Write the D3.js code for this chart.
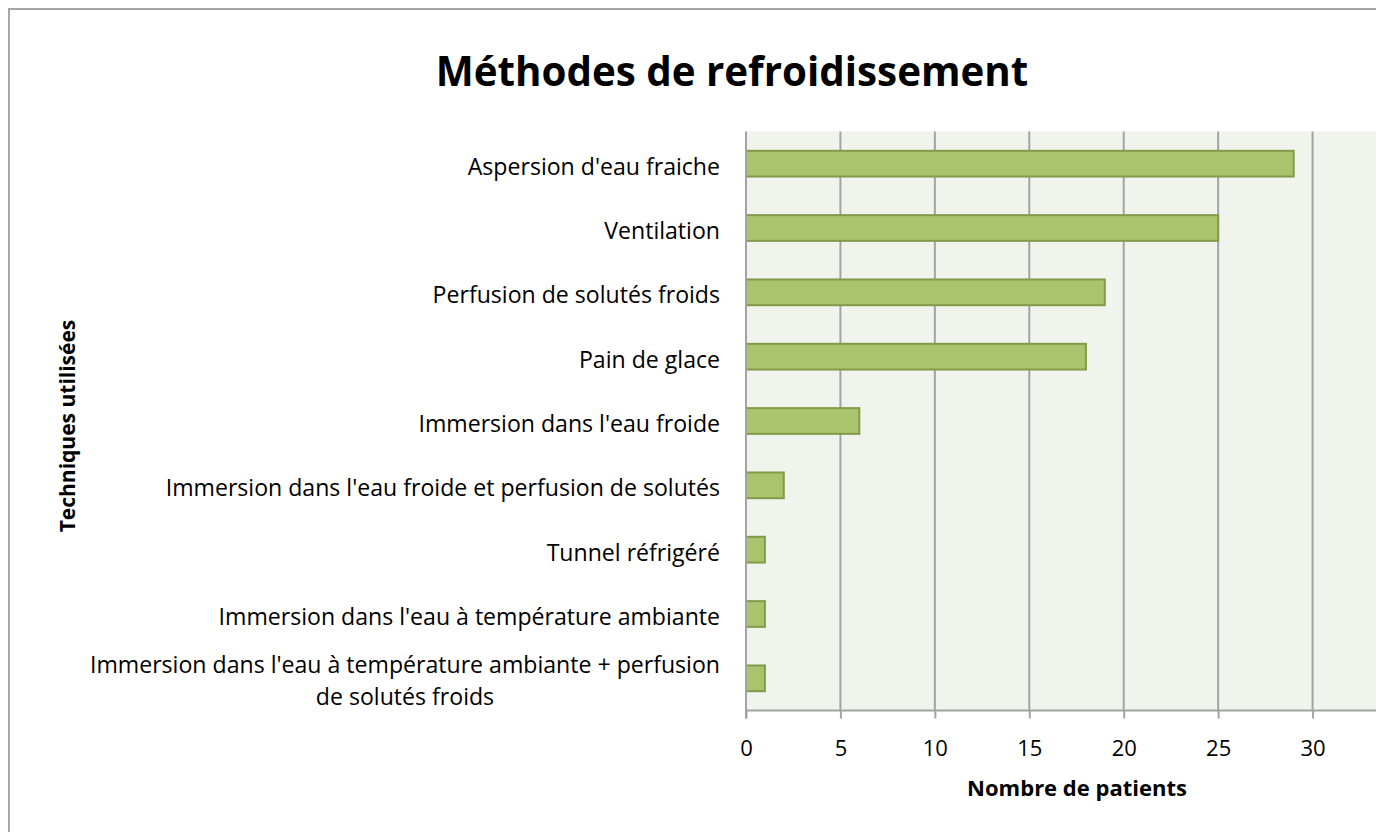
<!DOCTYPE html>
<html><head><meta charset="utf-8">
<script src="https://cdn.jsdelivr.net/npm/d3@7"></script>
<style>body{margin:0;background:#fff;overflow:hidden}svg{display:block}</style>
</head><body><svg id="c" width="1376" height="832"></svg>
<script>
const categories = [
  "Aspersion d'eau fraiche",
  "Ventilation",
  "Perfusion de solutés froids",
  "Pain de glace",
  "Immersion dans l'eau froide",
  "Immersion dans l'eau froide et perfusion de solutés",
  "Tunnel réfrigéré",
  "Immersion dans l'eau à température ambiante",
  "Immersion dans l'eau à température ambiante + perfusion|de solutés froids"
];
const values = [29, 25, 19, 18, 6, 2, 1, 1, 1];
const xTicks = [0, 5, 10, 15, 20, 25, 30];
const title = "Méthodes de refroidissement";
const xTitle = "Nombre de patients";
const yTitle = "Techniques utilisées";

const FONT = "'Open Sans', sans-serif";
const svg = d3.select("#c");
svg.append("rect").attr("x",9).attr("y",9).attr("width",1400).attr("height",900)
  .attr("fill","#fff").attr("stroke","#a6a6a6").attr("stroke-width",2);

const L = 746, R = 1407, T = 131.5, B = 710.5;
const x = d3.scaleLinear().domain([0, 35]).range([L, R]);
const y = d3.scaleBand().domain(categories).range([T, B]).paddingInner(0.6).paddingOuter(0.3);

svg.append("rect").attr("x",L).attr("y",T).attr("width",R-L).attr("height",B-T).attr("fill","#f1f4ed");

svg.append("g").selectAll("line").data(xTicks.filter(d=>d>0).concat([35])).join("line")
  .attr("x1",d=>x(d)).attr("x2",d=>x(d)).attr("y1",T).attr("y2",B)
  .attr("stroke","#a3a3a3").attr("stroke-width",2);

svg.append("g").selectAll("rect").data(values).join("rect")
  .attr("x",x(0)).attr("y",(d,i)=>y(categories[i]))
  .attr("width",d=>x(d)-x(0)).attr("height",y.bandwidth())
  .attr("fill","#a9c46c").attr("stroke","#809b49").attr("stroke-width",2);

const xa = svg.append("g").attr("transform",`translate(0,${B})`)
  .call(d3.axisBottom(x).tickValues(xTicks).tickSize(8).tickPadding(22).tickSizeOuter(0));
xa.select(".domain").attr("stroke","#a3a3a3").attr("stroke-width",2).attr("d",`M${L},0H${R}`);
xa.selectAll(".tick line").attr("stroke","#a3a3a3").attr("stroke-width",2);
xa.selectAll(".tick text").attr("font-family",FONT).attr("font-size",22).attr("fill","#000");

svg.append("line").attr("x1",L).attr("x2",L).attr("y1",T).attr("y2",B+8)
  .attr("stroke","#a3a3a3").attr("stroke-width",2);

const lab = svg.append("g").attr("font-family",FONT).attr("font-size",23.1).attr("fill","#000");
categories.forEach((c,i)=>{
  const lines = c.split("|");
  const cy = y(c) + y.bandwidth()/2;
  if (lines.length === 1) {
    lab.append("text").attr("x",720).attr("y",cy+3).attr("dy","0.35em").attr("text-anchor","end").text(c);
  } else {
    const t1 = lab.append("text").attr("x",720).attr("y",cy-13).attr("dy","0.35em").attr("text-anchor","end").text(lines[0]);
    const w = t1.node().getComputedTextLength();
    const mid = 720 - w/2;
    t1.attr("text-anchor","middle").attr("x",mid);
    lab.append("text").attr("x",mid).attr("y",cy+19).attr("dy","0.35em").attr("text-anchor","middle").text(lines[1]);
  }
});

svg.append("text").attr("x",732).attr("y",86).attr("text-anchor","middle")
  .attr("font-family",FONT).attr("font-weight","bold").attr("font-size",40.3).text(title);
svg.append("text").attr("x",1077).attr("y",796).attr("text-anchor","middle")
  .attr("font-family",FONT).attr("font-weight","bold").attr("font-size",22).text(xTitle);
svg.append("text").attr("transform","translate(75,426) rotate(-90)").attr("text-anchor","middle")
  .attr("font-family",FONT).attr("font-weight","bold").attr("font-size",21).text(yTitle);
</script></body></html>
